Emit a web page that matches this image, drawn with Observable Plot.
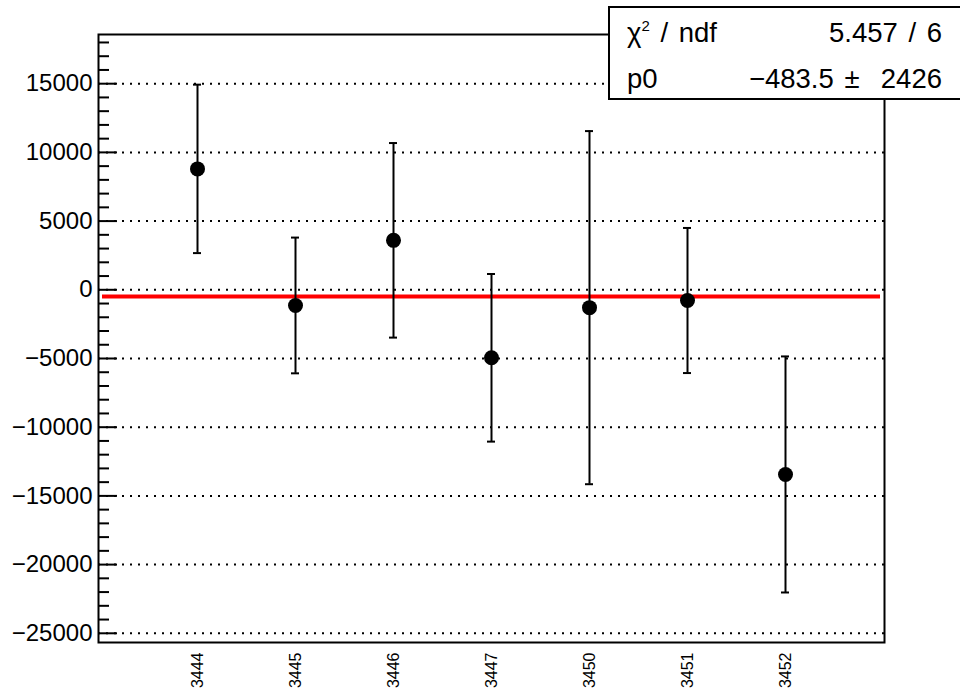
<!DOCTYPE html>
<html>
<head>
<meta charset="utf-8">
<script src="https://cdn.jsdelivr.net/npm/d3@7"></script>
<script src="https://cdn.jsdelivr.net/npm/@observablehq/plot@0.6"></script>
<style>
  html, body { margin: 0; padding: 0; background: #fff; }
  #wrap { position: relative; width: 960px; height: 692px; overflow: hidden; font-family: "Liberation Sans", Arial, sans-serif; }
  #stats { position: absolute; left: 608px; top: 6px; width: 360px; height: 90px; border: 2px solid #000; background: #fff; box-sizing: content-box; }
  .row { position: absolute; left: 17px; width: 315px; font-size: 27.5px; color: #000; display: flex; justify-content: space-between; line-height: 1; white-space: pre; word-spacing: 3px; }
</style>
</head>
<body>
<div id="wrap">
  <div id="chart"></div>
  <div id="stats">
    <div class="row" style="top:11px"><span>χ<span style="font-size:15px;position:relative;top:-11px">2</span> / ndf</span><span>5.457 / 6</span></div>
    <div class="row" style="top:57px"><span>p0</span><span>−483.5 ±  2426</span></div>
  </div>
</div>
<script>
const runs = ["3444", "3445", "3446", "3447", "3450", "3451", "3452"];
const values = [8800, -1140, 3600, -4950, -1300, -780, -13440];
const errors = [6130, 4940, 7080, 6100, 12850, 5280, 8590];
const fitP0 = -483.5;
const yMajorTicks = [-25000, -20000, -15000, -10000, -5000, 0, 5000, 10000, 15000];
const yMinorTicks = d3.range(-25000, 18001, 1000).filter(v => v % 5000 !== 0);

const data = runs.map((r, i) => ({run: r, v: values[i], e: errors[i]}));

const W = 960, H = 692, ML = 98, MR = 76, MT = 34, MB = 50;
const frameW = W - ML - MR;

const chart = Plot.plot({
  width: W,
  height: H,
  marginLeft: ML,
  marginRight: MR,
  marginTop: MT,
  marginBottom: MB,
  style: {fontFamily: "Liberation Sans, Arial, sans-serif", background: "#fff", color: "#000"},
  x: {type: "point", domain: runs, padding: 1},
  y: {domain: [-25670, 18580]},
  marks: [
    Plot.gridY(yMajorTicks, {stroke: "#000", strokeOpacity: 1, strokeWidth: 2, strokeDasharray: "2,6"}),
    Plot.ruleY([fitP0], {stroke: "#ff0000", strokeWidth: 4, insetLeft: 4, insetRight: 4}),
    Plot.ruleX(data, {x: "run", y1: d => d.v - d.e, y2: d => d.v + d.e, stroke: "#000", strokeWidth: 2}),
    Plot.ruleY(data, {y: d => d.v + d.e, x1: "run", x2: "run", insetLeft: -4, insetRight: -4, stroke: "#000", strokeWidth: 2}),
    Plot.ruleY(data, {y: d => d.v - d.e, x1: "run", x2: "run", insetLeft: -4, insetRight: -4, stroke: "#000", strokeWidth: 2}),
    Plot.dot(data, {x: "run", y: "v", r: 7.5, fill: "#000", stroke: "none"}),
    Plot.ruleY(yMajorTicks, {y: d => d, insetRight: frameW - 19, stroke: "#000", strokeWidth: 2}),
    Plot.ruleY(yMinorTicks, {y: d => d, insetRight: frameW - 11, stroke: "#000", strokeWidth: 2}),
    Plot.axisY(yMajorTicks, {tickSize: 0, tickPadding: 6, fontSize: 24, tickFormat: d3.format("d"), label: null}),
    Plot.axisX({tickSize: 0, tickPadding: 10, tickRotate: -90, fontSize: 16, label: null}),
    Plot.frame({stroke: "#000", strokeWidth: 2})
  ]
});
document.getElementById("chart").appendChild(chart);
</script>
</body>
</html>
